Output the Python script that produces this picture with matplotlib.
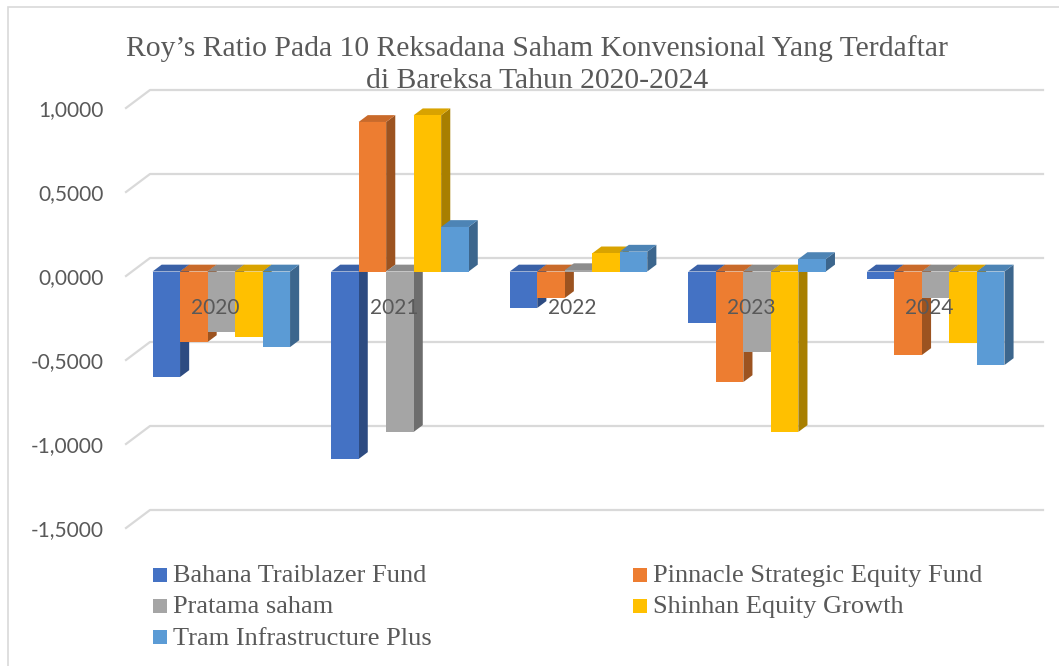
import matplotlib
matplotlib.use("Agg")
import matplotlib.pyplot as plt
import matplotlib.colors as mcolors
from matplotlib.patches import Polygon, Rectangle

# Data
years = ['2020', '2021', '2022', '2023', '2024']
series = ['Bahana Traiblazer Fund', 'Pinnacle Strategic Equity Fund', 'Pratama saham',
          'Shinhan Equity Growth', 'Tram Infrastructure Plus']
bahana = [-0.628, -1.116, -0.217, -0.307, -0.045]
pinnacle = [-0.420, 0.890, -0.158, -0.658, -0.497]
pratama = [-0.360, -0.955, 0.008, -0.479, -0.158]
shinhan = [-0.390, 0.930, 0.108, -0.955, -0.426]
tram = [-0.450, 0.265, 0.118, 0.074, -0.557]
yticks = [1.0, 0.5, 0.0, -0.5, -1.0, -1.5]

colors = ['#4472C4', '#ED7D31', '#A5A5A5', '#FFC000', '#5B9BD5']
text_gray = '#595959'
grid_gray = '#d9d9d9'

W, H = 1059, 666
fig = plt.figure(figsize=(W / 100, H / 100), dpi=100)

# front plane of the 3D box
ax = fig.add_axes([126 / W, (H - 528) / H, 893 / W, 420 / H])
ax.set_xlim(-0.5, 4.5)
ax.set_ylim(-1.5, 1.0)
for s in ax.spines.values():
    s.set_visible(False)
ax.set_xticks([])
ax.set_yticks(yticks, labels=[f'{v:.4f}'.replace('.', ',') for v in yticks])
ax.tick_params(axis='y', length=0, pad=16, labelsize=15, labelcolor=text_gray)
for lbl in ax.get_yticklabels():
    lbl.set_fontfamily('Lato')

# oblique depth of the floor (in data units)
px_x = 893 / 5
px_y = 420 / 2.5
dxf = 24 / px_x
dyf = 18 / px_y

# walls' gridlines
for v in yticks:
    ax.plot([-0.5, -0.5 + dxf, 4.5 + dxf], [v, v + dyf, v + dyf],
            color=grid_gray, lw=1.6, clip_on=False, zorder=1)


def shade(c, f):
    r, g, b = mcolors.to_rgb(c)
    return (r * f, g * f, b * f)


bw = 27.5 / px_x
front_frac = 0.25
depth_frac = 0.38
ddx = depth_frac * dxf
ddy = depth_frac * dyf
values = [bahana, pinnacle, pratama, shinhan, tram]

z = 2
for i in range(len(years)):
    for j, vals in enumerate(values):
        h = vals[i]
        x0 = i + (j - 2.5) * bw + front_frac * dxf
        y0 = front_frac * dyf
        top = y0 + max(h, 0)
        bot = y0 + min(h, 0)
        side = Polygon([(x0 + bw, bot), (x0 + bw + ddx, bot + ddy),
                        (x0 + bw + ddx, top + ddy), (x0 + bw, top)],
                       closed=True, facecolor=shade(colors[j], 0.66),
                       edgecolor='none', clip_on=False, zorder=z)
        ax.add_patch(side)
        lid = Polygon([(x0, top), (x0 + ddx, top + ddy),
                       (x0 + bw + ddx, top + ddy), (x0 + bw, top)],
                      closed=True, facecolor=shade(colors[j], 0.85),
                      edgecolor='none', clip_on=False, zorder=z)
        ax.add_patch(lid)
        ax.bar(x0, h, width=bw, bottom=y0, align='edge', color=colors[j],
               edgecolor='none', clip_on=False, zorder=z + 0.5)
        z += 1

# category labels on the floor
for i, yr in enumerate(years):
    ax.text(i, -0.19, yr, ha='center', va='center', fontsize=15,
            family='Lato', color=text_gray, zorder=200)

# title
fig.text(537 / W, 1 - 56 / H, 'Roy\u2019s Ratio Pada 10 Reksadana Saham Konvensional Yang Terdaftar',
         ha='center', va='baseline', family='Liberation Serif', fontsize=21.3, color=text_gray)
fig.text(537 / W, 1 - 88 / H, 'di Bareksa Tahun 2020-2024',
         ha='center', va='baseline', family='Liberation Serif', fontsize=21.3, color=text_gray)

# legend (row-wise, two columns)
col_x = [153, 633]
for k, name in enumerate(series):
    row, col = k // 2, k % 2
    cy = 574.5 + 31.3 * row
    fig.add_artist(Rectangle((col_x[col] / W, 1 - (cy + 7) / H), 14 / W, 14 / H,
                             transform=fig.transFigure, facecolor=colors[k], edgecolor='none'))
    fig.text((col_x[col] + 20) / W, 1 - (cy + 7.5) / H, name, ha='left', va='baseline',
             family='Liberation Serif', fontsize=19, color=text_gray)

# chart area border
fig.add_artist(Rectangle((8 / W, -0.1), 1.2, 1.1 - 7 / H, transform=fig.transFigure,
                         fill=False, edgecolor=grid_gray, lw=1.2))

plt.savefig('out.png', dpi=100)
